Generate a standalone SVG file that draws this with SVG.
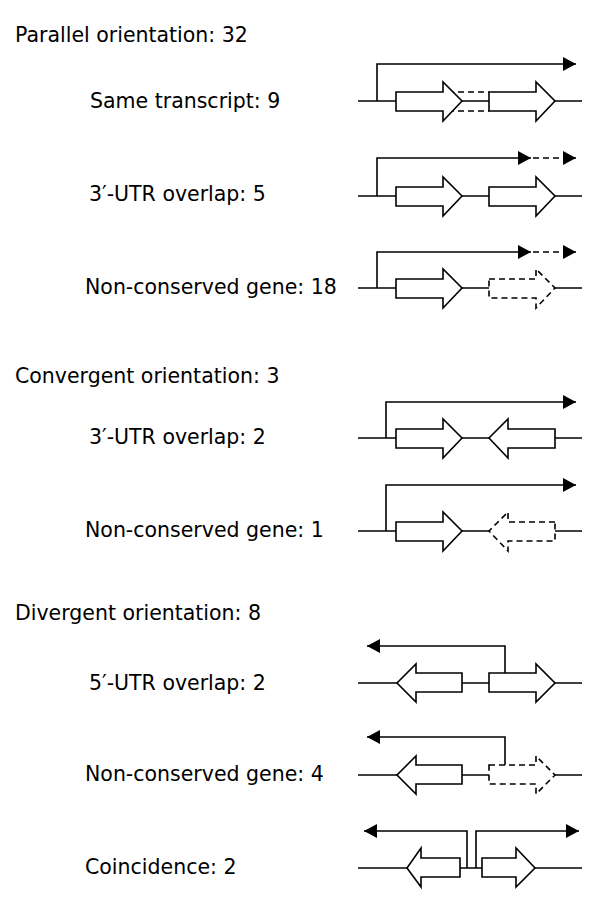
<svg xmlns="http://www.w3.org/2000/svg" width="600" height="904" viewBox="0 0 600 904">
<style>
text{font-family:"DejaVu Sans","Liberation Sans",sans-serif;font-size:20.5px;fill:#000}
.l{fill:none;stroke:#000;stroke-width:1.6}
.g{fill:#fff;stroke:#000;stroke-width:1.6}
.d{fill:#fff;stroke:#000;stroke-width:1.6;stroke-dasharray:6,4}
.dl{fill:none;stroke:#000;stroke-width:1.6;stroke-dasharray:6,4}
</style>
<defs>
<marker id="ah" viewBox="0 0 13 14" refX="13" refY="7" markerWidth="13" markerHeight="14" markerUnits="userSpaceOnUse" orient="auto"><path d="M0,0L13,7L0,14z" fill="#000"/></marker>
</defs>
<rect width="600" height="904" fill="#fff"/>
<g id="labels">
<text x="15" y="42">Parallel orientation: 32</text>
<text x="90" y="108">Same transcript: 9</text>
<text x="89" y="201">3′-UTR overlap: 5</text>
<text x="85" y="294">Non-conserved gene: 18</text>
<text x="15" y="383">Convergent orientation: 3</text>
<text x="89" y="444">3′-UTR overlap: 2</text>
<text x="85" y="537">Non-conserved gene: 1</text>
<text x="15" y="620">Divergent orientation: 8</text>
<text x="89" y="690">5′-UTR overlap: 2</text>
<text x="85" y="781">Non-conserved gene: 4</text>
<text x="85" y="874">Coincidence: 2</text>
</g>
<g id="connectors">
<line class="l" x1="358" y1="101" x2="582" y2="101"/>
<path class="l" d="M377,101V64H576" marker-end="url(#ah)"/>
<line class="dl" x1="448" y1="92" x2="489" y2="92"/>
<line class="dl" x1="448" y1="111" x2="489" y2="111"/>
<line class="l" x1="358" y1="196" x2="582" y2="196"/>
<path class="l" d="M377,196V158H531" marker-end="url(#ah)"/>
<line class="dl" x1="533" y1="158" x2="576" y2="158" marker-end="url(#ah)"/>
<line class="l" x1="358" y1="288" x2="582" y2="288"/>
<path class="l" d="M377,288V252H531" marker-end="url(#ah)"/>
<line class="dl" x1="533" y1="252" x2="576" y2="252" marker-end="url(#ah)"/>
<line class="l" x1="358" y1="438" x2="582" y2="438"/>
<path class="l" d="M386,438V402H576" marker-end="url(#ah)"/>
<line class="l" x1="358" y1="531" x2="582" y2="531"/>
<path class="l" d="M386,531V485H576" marker-end="url(#ah)"/>
<line class="l" x1="358" y1="683" x2="582" y2="683"/>
<path class="l" d="M505,673V646H367" marker-end="url(#ah)"/>
<line class="l" x1="358" y1="775" x2="582" y2="775"/>
<path class="l" d="M505,765V737H367" marker-end="url(#ah)"/>
<line class="l" x1="358" y1="868" x2="582" y2="868"/>
<path class="l" d="M467,868V831H364" marker-end="url(#ah)"/>
<path class="l" d="M476,868V831H579" marker-end="url(#ah)"/>
</g>
<g id="p1g1"><path class="g" d="M396,92H443V82L462,101L443,121V111H396Z"/></g>
<g id="p1g2"><path class="g" d="M489,92H536V82L555,101L536,121V111H489Z"/></g>
<g id="p2g1"><path class="g" d="M396,187H443V177L462,196L443,216V206H396Z"/></g>
<g id="p2g2"><path class="g" d="M489,187H536V177L555,196L536,216V206H489Z"/></g>
<g id="p3g1"><path class="g" d="M396,279H443V269L462,288L443,308V298H396Z"/></g>
<g id="p3g2"><path class="d" d="M489,279H536V269L555,288L536,308V298H489Z"/></g>
<g id="c1g1"><path class="g" d="M396,429H443V419L462,438L443,458V448H396Z"/></g>
<g id="c1g2"><path class="g" d="M555,429H508V419L489,438L508,458V448H555Z"/></g>
<g id="c2g1"><path class="g" d="M396,522H443V512L462,531L443,551V541H396Z"/></g>
<g id="c2g2"><path class="d" d="M555,522H508V512L489,531L508,551V541H555Z"/></g>
<g id="d1g1"><path class="g" d="M462,673H416V664L397,683L416,702V692H462Z"/></g>
<g id="d1g2"><path class="g" d="M489,673H536V664L555,683L536,702V692H489Z"/></g>
<g id="d2g1"><path class="g" d="M462,765H416V756L397,775L416,794V784H462Z"/></g>
<g id="d2g2"><path class="d" d="M489,765H536V756L555,775L536,794V784H489Z"/></g>
<g id="x1g1"><path class="g" d="M460,858H421V848L407,868L421,887V877H460Z"/></g>
<g id="x1g2"><path class="g" d="M482,858H516V848L535,868L516,887V877H482Z"/></g>
</svg>
